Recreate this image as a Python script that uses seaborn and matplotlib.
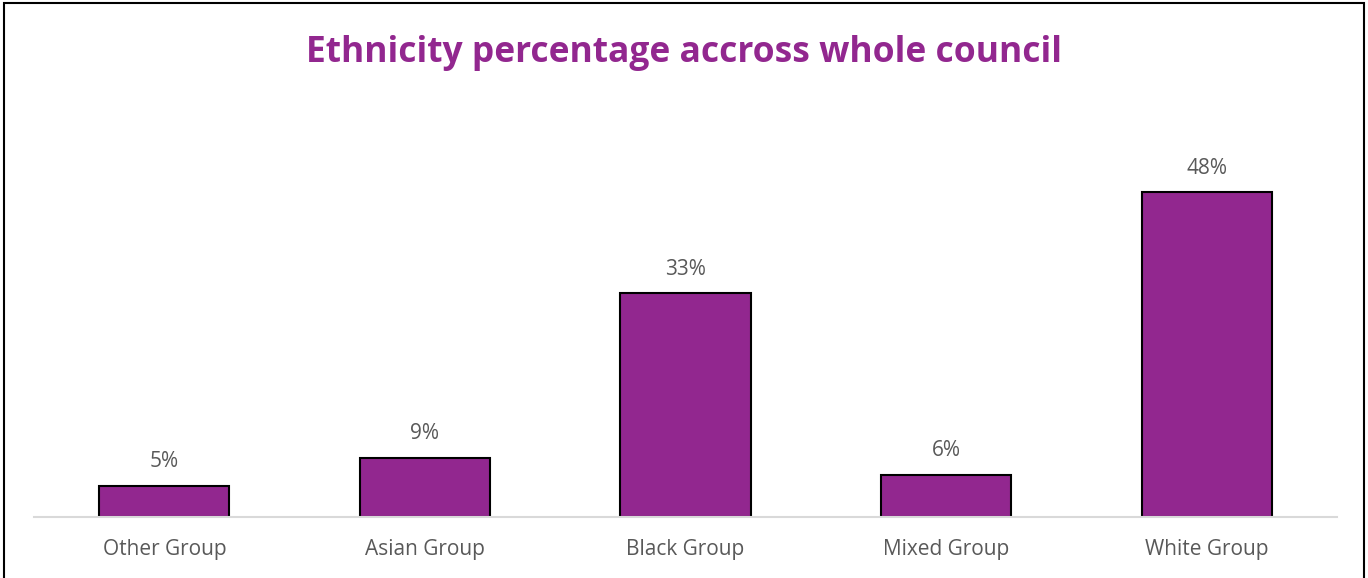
import pandas as pd
import seaborn as sns
import matplotlib.pyplot as plt
from matplotlib.patches import Rectangle

groups = ['Other Group', 'Asian Group', 'Black Group', 'Mixed Group', 'White Group']
percent = [4.6, 8.7, 33.0, 6.2, 47.9]
labels = ['5%', '9%', '33%', '6%', '48%']

df = pd.DataFrame({'group': groups, 'percent': percent})

sns.set_theme(style='white')
plt.rcParams['font.family'] = ['Open Sans', 'DejaVu Sans']

purple = '#92278F'
fig = plt.figure(figsize=(13.68, 5.78), dpi=100)
ax = fig.add_axes([0.0249, 0.1055, 0.9524, 0.7042])

sns.barplot(data=df, x='group', y='percent', color=purple, width=0.5,
            edgecolor='black', linewidth=1.5, saturation=1, ax=ax)

for i, lab in enumerate(labels):
    ax.text(i, percent[i] + 2.0, lab, ha='center', va='bottom',
            fontsize=15, color='#595959')

ax.set_xlim(-0.5, 4.5)
ax.set_ylim(0, 60)
ax.set_xlabel('')
ax.set_ylabel('')
ax.set_yticks([])
for s in ['top', 'left', 'right']:
    ax.spines[s].set_visible(False)
ax.spines['bottom'].set_color('#d9d9d9')
ax.spines['bottom'].set_linewidth(1.5)
ax.tick_params(axis='x', length=0, pad=16, labelsize=15, labelcolor='#595959')

fig.text(0.5, 0.908, 'Ethnicity percentage accross whole council', ha='center',
         va='center', fontsize=25.5, fontweight='bold', color=purple)

fig.patches.append(Rectangle((0.003, -0.05), 0.994, 1.045, transform=fig.transFigure,
                             fill=False, edgecolor='black', linewidth=1.5))

fig.savefig('out.png', dpi=100)
